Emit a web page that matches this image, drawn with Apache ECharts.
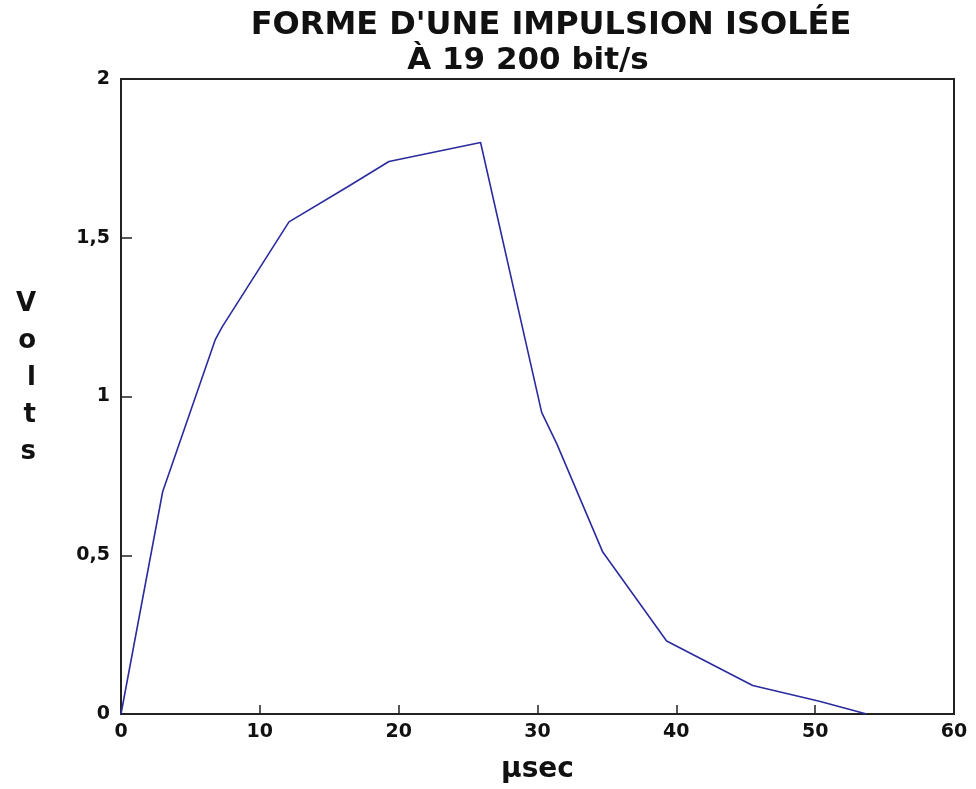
<!DOCTYPE html>
<html>
<head>
<meta charset="utf-8">
<script src="https://cdn.jsdelivr.net/npm/echarts@6/dist/echarts.min.js"></script>
<style>
html,body{margin:0;padding:0;background:#fff;}
#chart{width:976px;height:789px;}
</style>
</head>
<body>
<div id="chart"></div>
<script>
// Data (time in µs, voltage in V)
const timeUs = [0, 3.0, 6.8, 7.3, 12.1, 16.3, 19.3, 25.9, 30.3, 31.4, 34.7, 39.3, 42.4, 45.5, 50.3, 53.7];
const volts  = [0, 0.70, 1.18, 1.22, 1.55, 1.66, 1.74, 1.80, 0.95, 0.85, 0.51, 0.23, 0.16, 0.09, 0.04, 0.0];
const titleLine1 = "FORME D'UNE IMPULSION ISOLÉE";
const titleLine2 = "À 19 200 bit/s";
const xName = "µsec";
const yName = "Volts";

const chart = echarts.init(document.getElementById('chart'));
const font = 'DejaVu Sans';
const ink = '#111';
chart.setOption({
  animation: false,
  backgroundColor: '#fff',
  title: [
    {text: titleLine1, left: 551, top: 10, textAlign: 'center', padding: 0,
     textStyle: {fontFamily: font, fontWeight: 'bold', fontSize: 32, color: ink}},
    {text: titleLine2, left: 528, top: 45, textAlign: 'center', padding: 0,
     textStyle: {fontFamily: font, fontWeight: 'bold', fontSize: 31, color: ink}}
  ],
  grid: {left: 121, right: 22, top: 79, bottom: 73, show: true, borderColor: '#222', borderWidth: 2, backgroundColor: '#fff'},
  xAxis: {
    type: 'value', min: 0, max: 60, interval: 10,
    name: xName, nameLocation: 'middle', nameGap: 42,
    nameTextStyle: {fontFamily: font, fontWeight: 'bold', fontSize: 28, color: ink},
    axisLine: {show: true, lineStyle: {color: '#222', width: 2}},
    axisTick: {show: true, inside: true, length: 9, lineStyle: {color: '#222', width: 1.5}},
    axisLabel: {margin: 9, fontFamily: font, fontWeight: 'bold', fontSize: 19, color: ink},
    splitLine: {show: false}
  },
  yAxis: {
    type: 'value', min: 0, max: 2, interval: 0.5,
    name: yName.split('').join('\n') + '\n ', nameLocation: 'middle', nameGap: 85, nameRotate: 0,
    nameTextStyle: {fontFamily: font, fontWeight: 'bold', fontSize: 26, color: ink, lineHeight: 37},
    axisLine: {show: true, lineStyle: {color: '#222', width: 2}},
    axisTick: {show: true, inside: true, length: 11, lineStyle: {color: '#222', width: 1.5}},
    axisLabel: {margin: 11, fontFamily: font, fontWeight: 'bold', fontSize: 19, color: ink,
      formatter: v => String(v).replace('.', ',')},
    splitLine: {show: false}
  },
  series: [{
    type: 'line',
    data: timeUs.map((t, i) => [t, volts[i]]),
    showSymbol: false,
    lineStyle: {color: '#2b2b9e', width: 1.6},
    itemStyle: {color: '#2b2b9e'}
  }]
});
</script>
</body>
</html>
